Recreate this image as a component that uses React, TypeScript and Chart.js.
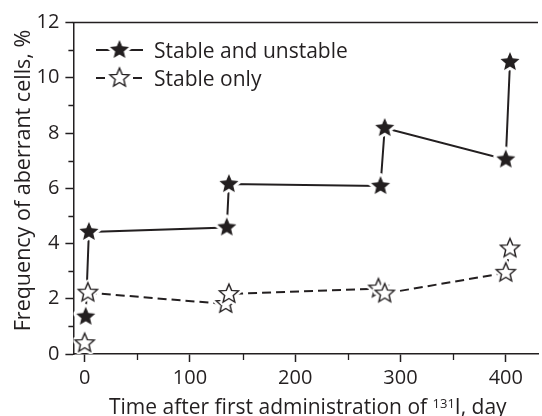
import React, { useEffect, useRef } from "react";
import { Chart, registerables } from "chart.js";

Chart.register(...registerables);

// ---- data ----
const daysBoth = [1, 4, 135, 137, 281, 285, 400, 404];
const freqBoth = [1.35, 4.42, 4.58, 6.15, 6.08, 8.18, 7.04, 10.57];
const daysStable = [0, 3, 134, 137, 279, 285, 400, 404];
const freqStable = [0.39, 2.22, 1.81, 2.17, 2.37, 2.19, 2.94, 3.82];
const seriesLabels = ["Stable and unstable", "Stable only"];
const xMinorTicks = [50, 150, 250, 350];
const yMinorTicks = [1, 3, 5, 7, 9, 11];
const xTitleParts = ["Time after first administration of ", "131", "I, day"];
const yTitle = "Frequency of aberrant cells, %";

const INK = "#231f20";
const FONT = '"Open Sans", "DejaVu Sans", sans-serif';

function makeStar(filled: boolean): HTMLCanvasElement {
  const size = 30;
  const c = document.createElement("canvas");
  c.width = size;
  c.height = size;
  const ctx = c.getContext("2d")!;
  const R = 10;
  const r = 4.5;
  const cx = size / 2;
  const cy = size / 2;
  ctx.beginPath();
  for (let i = 0; i < 10; i++) {
    const rad = i % 2 === 0 ? R : r;
    const a = -Math.PI / 2 + (i * Math.PI) / 5;
    const px = cx + rad * Math.cos(a);
    const py = cy + rad * Math.sin(a);
    if (i === 0) ctx.moveTo(px, py);
    else ctx.lineTo(px, py);
  }
  ctx.closePath();
  ctx.lineJoin = "round";
  ctx.strokeStyle = "#ffffff";
  ctx.lineWidth = 6;
  ctx.stroke();
  if (filled) {
    ctx.fillStyle = INK;
    ctx.fill();
  } else {
    ctx.fillStyle = "#ffffff";
    ctx.fill();
    ctx.lineJoin = "miter";
    ctx.strokeStyle = INK;
    ctx.lineWidth = 1.4;
    ctx.stroke();
  }
  return c;
}

const decorPlugin = {
  id: "decor",
  afterDraw(chart: any) {
    const { ctx, chartArea, scales } = chart;
    const xs = scales.x;
    const ys = scales.y;
    ctx.save();
    ctx.strokeStyle = INK;
    // top frame line
    ctx.lineWidth = 1.5;
    ctx.beginPath();
    ctx.moveTo(chartArea.left - 0.75, chartArea.top);
    ctx.lineTo(chartArea.right, chartArea.top);
    ctx.stroke();
    // minor ticks
    ctx.lineWidth = 1.3;
    ctx.beginPath();
    for (const v of yMinorTicks) {
      const py = Math.round(ys.getPixelForValue(v)) + 0.5;
      ctx.moveTo(chartArea.left - 5, py);
      ctx.lineTo(chartArea.left, py);
    }
    for (const v of xMinorTicks) {
      const px = Math.round(xs.getPixelForValue(v)) + 0.5;
      ctx.moveTo(px, chartArea.bottom);
      ctx.lineTo(px, chartArea.bottom + 6);
    }
    ctx.stroke();

    // legend
    const lx0 = chartArea.left + 22.6;
    const lx1 = lx0 + 47;
    const rowY = [chartArea.top + 27.5, chartArea.top + 55.5];
    chart.data.datasets.forEach((ds: any, i: number) => {
      const y = rowY[i];
      ctx.save();
      ctx.strokeStyle = INK;
      ctx.lineWidth = 2;
      ctx.setLineDash(ds.borderDash && ds.borderDash.length ? [9, 28] : []);
      ctx.beginPath();
      ctx.moveTo(lx0, y);
      ctx.lineTo(lx1, y);
      ctx.stroke();
      ctx.restore();
      const img = ds.pointStyle as HTMLCanvasElement;
      ctx.drawImage(img, (lx0 + lx1) / 2 - img.width / 2, y - img.height / 2);
      ctx.fillStyle = INK;
      ctx.font = `21px ${FONT}`;
      ctx.textAlign = "left";
      ctx.textBaseline = "alphabetic";
      ctx.fillText(ds.label, lx1 + 11, y + 7.5);
    });

    // x-axis title with superscript
    ctx.fillStyle = INK;
    ctx.textBaseline = "alphabetic";
    ctx.textAlign = "left";
    ctx.font = `21px ${FONT}`;
    const w1 = ctx.measureText(xTitleParts[0]).width;
    const w3 = ctx.measureText(xTitleParts[2]).width;
    ctx.font = `13px ${FONT}`;
    const w2 = ctx.measureText(xTitleParts[1]).width;
    const cx = chartArea.left + 234.4;
    const base = chartArea.bottom + 60;
    let sx = cx - (w1 + w2 + w3) / 2;
    ctx.font = `21px ${FONT}`;
    ctx.fillText(xTitleParts[0], sx, base);
    sx += w1;
    ctx.font = `13px ${FONT}`;
    ctx.fillText(xTitleParts[1], sx, base - 5.8);
    sx += w2;
    ctx.font = `21px ${FONT}`;
    ctx.fillText(xTitleParts[2], sx, base);

    // y-axis title
    ctx.save();
    ctx.translate(29.5, chartArea.top + 158);
    ctx.rotate(-Math.PI / 2);
    ctx.textAlign = "center";
    ctx.font = `21.5px ${FONT}`;
    ctx.fillText(yTitle, 0, 0);
    ctx.restore();

    ctx.restore();
  },
};

export default function App() {
  const ref = useRef<HTMLCanvasElement | null>(null);

  useEffect(() => {
    document.body.style.margin = "0";
    const canvas = ref.current;
    if (!canvas) return;
    const starFilled = makeStar(true);
    const starOpen = makeStar(false);

    const chart = new Chart(canvas, {
      type: "line",
      data: {
        datasets: [
          {
            label: seriesLabels[0],
            data: daysBoth.map((d, i) => ({ x: d, y: freqBoth[i] })),
            borderColor: INK,
            backgroundColor: INK,
            borderWidth: 2,
            pointStyle: starFilled,
            pointRadius: 10,
            pointHoverRadius: 10,
            tension: 0,
            fill: false,
            order: 1,
          },
          {
            label: seriesLabels[1],
            data: daysStable.map((d, i) => ({ x: d, y: freqStable[i] })),
            borderColor: INK,
            backgroundColor: "#ffffff",
            borderWidth: 2,
            borderDash: [9, 5],
            segment: {
              borderColor: (c: any) => (c.p0DataIndex === 0 ? "rgba(0,0,0,0)" : INK),
            },
            pointStyle: starOpen,
            pointRadius: 10,
            pointHoverRadius: 10,
            tension: 0,
            fill: false,
            order: 0,
          },
        ],
      } as any,
      options: {
        animation: false,
        responsive: false,
        events: [],
        layout: { padding: { top: 22.5, left: 0, right: -5, bottom: 0 } },
        plugins: {
          legend: { display: false },
          tooltip: { enabled: false },
        },
        scales: {
          x: {
            type: "linear",
            min: -10.7,
            max: 430.6,
            border: { display: true, color: INK, width: 1.5 },
            grid: {
              display: true,
              drawOnChartArea: false,
              drawTicks: true,
              tickLength: 8,
              tickColor: INK,
              tickWidth: 1.5,
            },
            ticks: {
              stepSize: 100,
              includeBounds: false,
              maxRotation: 0,
              color: INK,
              padding: 4,
              font: { family: FONT, size: 20 },
            },
            afterFit: (s: any) => {
              s.height = 62;
              s.paddingLeft = 0;
              s.paddingRight = 0;
            },
          },
          y: {
            type: "linear",
            min: 0,
            max: 12,
            border: { display: true, color: INK, width: 1.5 },
            grid: {
              display: true,
              drawOnChartArea: false,
              drawTicks: true,
              tickLength: 8,
              tickColor: INK,
              tickWidth: 1.5,
            },
            ticks: {
              stepSize: 2,
              color: INK,
              padding: 6,
              font: { family: FONT, size: 20 },
            },
            afterFit: (s: any) => {
              s.width = 73.4;
              s.paddingTop = 0;
              s.paddingBottom = 0;
            },
          },
        },
      } as any,
      plugins: [decorPlugin],
    });
    return () => chart.destroy();
  }, []);

  return (
    <div style={{ width: 542, height: 416, overflow: "hidden", position: "relative", background: "#ffffff" }}>
      <canvas ref={ref} width={550} height={416} style={{ display: "block" }} />
    </div>
  );
}
